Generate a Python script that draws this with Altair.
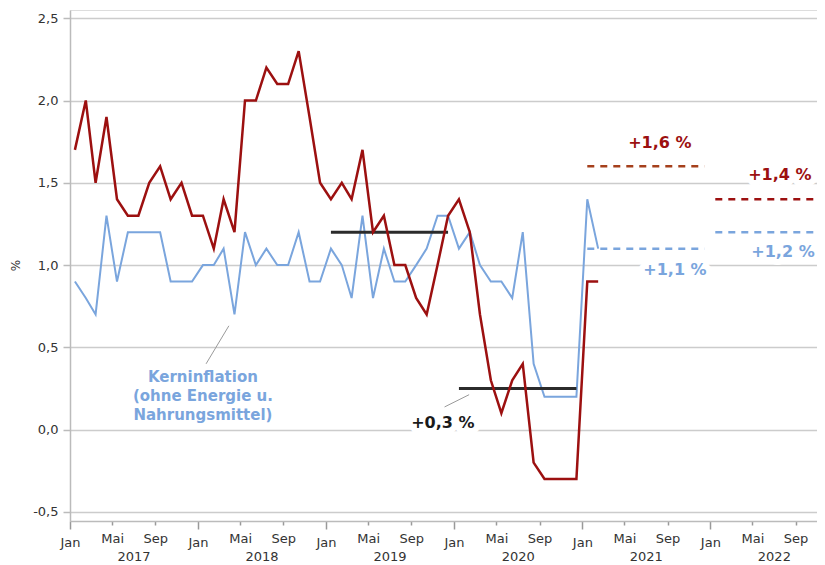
import altair as alt
import pandas as pd

# ---------------- data ----------------
months = [d.strftime("%Y-%m-15") for d in pd.date_range("2017-01-01", periods=50, freq="MS")]

hvpi = [1.7, 2.0, 1.5, 1.9, 1.4, 1.3, 1.3, 1.5, 1.6, 1.4, 1.5, 1.3,
        1.3, 1.1, 1.4, 1.2, 2.0, 2.0, 2.2, 2.1, 2.1, 2.3, 1.9, 1.5,
        1.4, 1.5, 1.4, 1.7, 1.2, 1.3, 1.0, 1.0, 0.8, 0.7, 1.0, 1.3,
        1.4, 1.2, 0.7, 0.3, 0.1, 0.3, 0.4, -0.2, -0.3, -0.3, -0.3, -0.3,
        0.9, 0.9]

kern = [0.9, 0.8, 0.7, 1.3, 0.9, 1.2, 1.2, 1.2, 1.2, 0.9, 0.9, 0.9,
        1.0, 1.0, 1.1, 0.7, 1.2, 1.0, 1.1, 1.0, 1.0, 1.2, 0.9, 0.9,
        1.1, 1.0, 0.8, 1.3, 0.8, 1.1, 0.9, 0.9, 1.0, 1.1, 1.3, 1.3,
        1.1, 1.2, 1.0, 0.9, 0.9, 0.8, 1.2, 0.4, 0.2, 0.2, 0.2, 0.2,
        1.4, 1.1]

avg_years = [2019, 2020]
avg_values = [1.2, 0.25]

fc_keys = ["hvpi21", "kern21", "hvpi22", "kern22"]
fc_years = [2021, 2021, 2022, 2022]
fc_values = [1.6, 1.1, 1.4, 1.2]

label_texts = ["+1,6 %", "+1,4 %", "+1,1 %", "+1,2 %", "+0,3 %"]
label_keys = ["hvpi", "hvpi", "kern", "kern", "avg"]
label_dates = ["2021-08-10", "2022-07-18", "2021-09-22", "2022-07-27", "2019-11-30"]
label_values = [1.743, 1.548, 0.971, 1.081, 0.0425]

kern_label = "Kerninflation\n(ohne Energie u.\nNahrungsmittel)"
kern_label_date = "2018-01-15"
kern_label_value = 0.322

leader_x = ["2018-03-30", "2020-02-13"]
leader_x2 = ["2018-01-24", "2019-12-05"]
leader_y = [0.631, 0.2125]
leader_y2 = [0.40, 0.138]

y_ticks = [-0.5, 0.0, 0.5, 1.0, 1.5, 2.0, 2.5]
x_tick_years = [2017, 2018, 2019, 2020, 2021, 2022]
x_tick_months = [1, 5, 7, 9]

# ---------------- tables ----------------
series_df = pd.DataFrame({"date": months, "hvpi": hvpi, "kern": kern})
avg_df = pd.DataFrame({"start": [f"{y}-01-15" for y in avg_years],
                       "end": [f"{y}-12-15" for y in avg_years],
                       "value": avg_values})
fc_df = pd.DataFrame({"key": fc_keys,
                      "start": [f"{y}-01-15" for y in fc_years],
                      "end": [f"{y}-12-15" for y in fc_years],
                      "value": fc_values})
lab_df = pd.DataFrame({"text": label_texts, "key": label_keys,
                       "date": label_dates, "value": label_values})
kern_df = pd.DataFrame({"text": [kern_label], "date": [kern_label_date],
                        "value": [kern_label_value]})
leader_df = pd.DataFrame({"x": leader_x, "x2": leader_x2, "y": leader_y, "y2": leader_y2})

RED = "#9c1010"
RED21 = "#a5401c"
BLUE = "#7aa5dd"
DARK = "#2b2b2b"
FONT = "DejaVu Sans"

xscale = alt.Scale(type="utc", domain=["2017-01-01", "2022-11-01"])
yscale = alt.Scale(domain=[-0.555, 2.55], nice=False, zero=False)

x_values = [alt.DateTime(year=y, month=m, date=1, utc=True)
            for y in x_tick_years for m in x_tick_months]

x_axis = alt.Axis(
    values=x_values, title=None, grid=False,
    labelExpr="utcmonth(datum.value) == 6 ? ['', '' + utcyear(datum.value)] : "
              "(utcmonth(datum.value) == 0 ? 'Jan' : (utcmonth(datum.value) == 4 ? 'Mai' : 'Sep'))",
    labelOverlap=False, labelFlush=False, labelBound=False,
    labelFont=FONT, labelFontSize=13, labelColor="#333333",
    labelLineHeight=18, labelPadding=7,
    tickSize={"condition": {"test": "utcmonth(datum.value) === 0", "value": 8}, "value": 4},
    tickOpacity={"condition": {"test": "utcmonth(datum.value) === 6", "value": 0}, "value": 1},
    tickColor="#999999", tickWidth=1.5,
    domainColor="#bbbbbb", domainWidth=1.5,
)

y_axis = alt.Axis(
    values=y_ticks, title="%", grid=True, gridColor="#cccccc", gridWidth=1.5,
    labelExpr="replace(replace(format(datum.value, '.1f'), '.', ','), '\u2212', '-')",
    labelFont=FONT, labelFontSize=13, labelColor="#333333", labelPadding=5,
    tickSize=7, tickColor="#bbbbbb", tickWidth=1.5,
    domainColor="#bbbbbb", domainWidth=1.5,
    titleFont=FONT, titleFontSize=12, titleColor="#333333", titleFontWeight="normal",
    titleAngle=-90, titleX=-55, titleY=255, titleAlign="center", titleBaseline="middle",
)


def X(field):
    return alt.X(field, scale=xscale, axis=x_axis)


def Y(field):
    return alt.Y(field, scale=yscale, axis=y_axis)


base = alt.Chart(series_df)

blue_line = base.mark_line(color=BLUE, strokeWidth=2).encode(x=X("date:T"), y=Y("kern:Q"))
red_line = base.mark_line(color=RED, strokeWidth=2.5).encode(x=X("date:T"), y=Y("hvpi:Q"))

avg_rules = alt.Chart(avg_df).mark_rule(color=DARK, strokeWidth=3).encode(
    x=X("start:T"), x2="end:T", y=Y("value:Q"),
)

fc_rules = alt.Chart(fc_df).mark_rule(strokeWidth=2.5, strokeDash=[7, 6], clip=True).encode(
    x=X("start:T"), x2="end:T", y=Y("value:Q"),
    color=alt.Color("key:N", legend=None,
                    scale=alt.Scale(domain=["hvpi21", "kern21", "hvpi22", "kern22"],
                                    range=[RED21, BLUE, RED, BLUE])),
)

leaders = alt.Chart(leader_df).mark_rule(color="#9a9a9a", strokeWidth=1).encode(
    x=X("x:T"), x2="x2:T", y=Y("y:Q"), y2="y2:Q",
)

halo = alt.Chart(lab_df).mark_text(
    font=FONT, fontSize=16, fontWeight="bold", color="white",
    stroke="white", strokeWidth=12, strokeJoin="round", baseline="middle", align="center",
).encode(x=X("date:T"), y=Y("value:Q"), text="text:N")

labels = alt.Chart(lab_df).mark_text(
    font=FONT, fontSize=16, fontWeight="bold", baseline="middle", align="center",
).encode(
    x=X("date:T"), y=Y("value:Q"), text="text:N",
    color=alt.Color("key:N", legend=None,
                    scale=alt.Scale(domain=["hvpi", "kern", "avg"], range=[RED, BLUE, "#1a1a1a"])),
)

kern_text = alt.Chart(kern_df).mark_text(
    font=FONT, fontSize=15, fontWeight="bold", color=BLUE, baseline="middle",
    align="center", lineBreak="\n", lineHeight=19,
).encode(x=X("date:T"), y=Y("value:Q"), text="text:N")

chart = alt.layer(
    blue_line, avg_rules, red_line, fc_rules, leaders, halo, labels, kern_text
).resolve_scale(color="independent").properties(
    width=747, height=511, autosize="none",
    padding={"left": 62, "top": 2, "right": 0, "bottom": 44},
).configure_view(strokeOpacity=0).configure(background="white")

chart.save("out.html", embed_options={"renderer": "svg", "actions": False})
